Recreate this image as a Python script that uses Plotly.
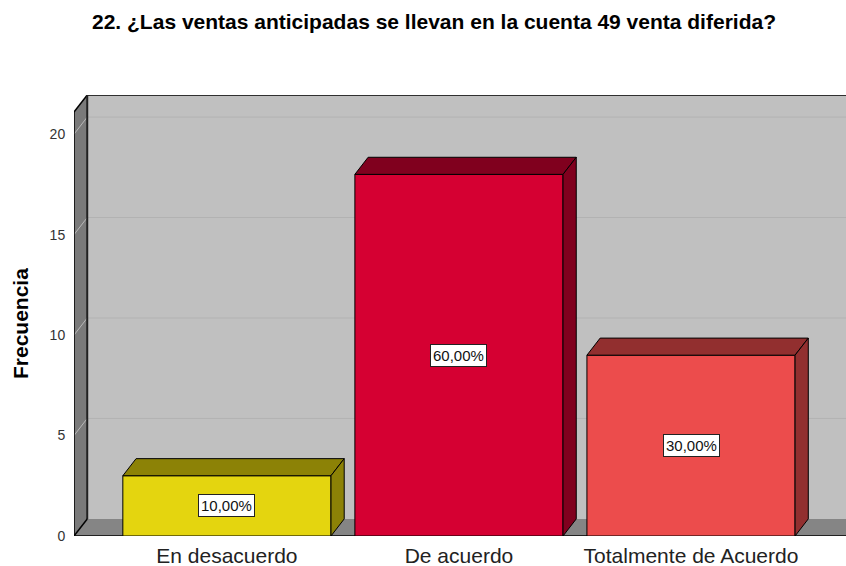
import plotly.graph_objects as go

# ---- data ----
categories = ["En desacuerdo", "De acuerdo", "Totalmente de Acuerdo"]
frequencies = [3, 18, 9]
front_colors = ["#e4d50f", "#d50032", "#ec4c4c"]
side_colors = ["#8c8206", "#80001e", "#922f2f"]
y_ticks = [0, 5, 10, 15, 20]

title_text = "22. ¿Las ventas anticipadas se llevan en la cuenta 49 venta diferida?"
y_title = "Frecuencia"

# ---- geometry constants (axis units) ----
XMIN, XMAX = -0.659, 2.668
YMAX = 21.95
DX = 0.057      # depth offset in x
DY = 0.85       # depth offset in y
BAR_W = 0.897
WALL_TOP = YMAX - DY

total = sum(frequencies)
xs = list(range(len(categories)))

fig = go.Figure()

# front faces of bars
fig.add_trace(go.Bar(
    x=xs, y=frequencies, width=BAR_W,
    marker=dict(color=front_colors, line=dict(color="#000000", width=1)),
    hoverinfo="skip", showlegend=False,
))

# 3D top and side faces computed from the data
for i, v in enumerate(frequencies):
    xl = xs[i] - BAR_W / 2
    xr = xs[i] + BAR_W / 2
    fig.add_trace(go.Scatter(
        x=[xl, xl + DX, xr + DX, xr, xl],
        y=[v, v + DY, v + DY, v, v],
        fill="toself", fillcolor=side_colors[i], mode="lines",
        line=dict(color="#000000", width=1),
        hoverinfo="skip", showlegend=False,
    ))
    fig.add_trace(go.Scatter(
        x=[xr, xr, xr + DX, xr + DX, xr],
        y=[0, v, v + DY, DY, 0],
        fill="toself", fillcolor=side_colors[i], mode="lines",
        line=dict(color="#000000", width=1),
        hoverinfo="skip", showlegend=False,
    ))

# ---- walls as background shapes ----
shapes = []
shapes.append(dict(type="rect", xref="x", yref="y", layer="below",
                   x0=XMIN + DX, x1=XMAX + 0.1, y0=DY, y1=YMAX,
                   fillcolor="#c0c0c0", line=dict(width=0)))
shapes.append(dict(type="path", xref="x", yref="y", layer="below",
                   path=f"M {XMIN},0 L {XMIN},{WALL_TOP} L {XMIN+DX},{YMAX} L {XMIN+DX},{DY} Z",
                   fillcolor="#7a7a7a", line=dict(width=0)))
shapes.append(dict(type="path", xref="x", yref="y", layer="below",
                   path=f"M {XMIN},0 L {XMAX+0.1},0 L {XMAX+0.1},{DY} L {XMIN+DX},{DY} Z",
                   fillcolor="#858585", line=dict(width=0)))
for t in y_ticks[1:]:
    shapes.append(dict(type="line", xref="x", yref="y", layer="below",
                       x0=XMIN + DX, x1=XMAX + 0.1, y0=t + DY, y1=t + DY,
                       line=dict(color="#b2b2b2", width=1)))
    shapes.append(dict(type="line", xref="x", yref="y", layer="below",
                       x0=XMIN, x1=XMIN + DX, y0=t, y1=t + DY,
                       line=dict(color="#b8b8b8", width=1)))
edge = dict(color="#000000", width=1.5)
shapes.append(dict(type="line", xref="x", yref="y", layer="below",
                   x0=XMIN, x1=XMIN, y0=0, y1=WALL_TOP, line=edge))
shapes.append(dict(type="line", xref="x", yref="y", layer="below",
                   x0=XMIN, x1=XMIN + DX, y0=WALL_TOP, y1=YMAX, line=edge))
shapes.append(dict(type="line", xref="x", yref="y", layer="below",
                   x0=XMIN + DX, x1=XMAX + 0.1, y0=YMAX, y1=YMAX, line=edge))
shapes.append(dict(type="line", xref="x", yref="y", layer="below",
                   x0=XMIN + DX, x1=XMIN + DX, y0=DY, y1=YMAX,
                   line=dict(color="#222222", width=2)))
shapes.append(dict(type="line", xref="x", yref="y", layer="below",
                   x0=XMIN, x1=XMIN + DX, y0=0, y1=DY, line=edge))
shapes.append(dict(type="line", xref="x", yref="y", layer="below",
                   x0=XMIN, x1=XMAX + 0.1, y0=0, y1=0, line=edge))

# ---- percentage labels ----
annotations = []
for i, v in enumerate(frequencies):
    pct = f"{100 * v / total:.2f}".replace(".", ",") + "%"
    annotations.append(dict(
        x=xs[i], y=v / 2, xref="x", yref="y", text=pct, showarrow=False,
        font=dict(family="Liberation Sans, Arial", size=15, color="#111111"),
        bgcolor="#ffffff", bordercolor="#222222", borderwidth=1, borderpad=2,
    ))
annotations.append(dict(
    x=0, y=(536 - 324) / 441, xref="paper", yref="paper", xshift=-54,
    text=f"<b>{y_title}</b>", textangle=-90, showarrow=False,
    xanchor="center", yanchor="middle",
    font=dict(family="Liberation Sans, Arial", size=21, color="#000000"),
))

fig.update_layout(
    width=846, height=566,
    margin=dict(l=74, r=0, t=95, b=30),
    paper_bgcolor="#ffffff", plot_bgcolor="#ffffff",
    title=dict(text=f"<b>{title_text}</b>", x=434 / 846, xanchor="center",
               xref="container", y=1 - 22 / 566, yanchor="middle", yref="container",
               font=dict(family="Liberation Sans, Arial", size=21, color="#000000")),
    shapes=shapes, annotations=annotations,
    showlegend=False,
)
fig.update_xaxes(range=[XMIN, XMAX], tickvals=xs, ticktext=categories,
                 showgrid=False, zeroline=False, showline=False,
                 ticks="outside", ticklen=1, tickcolor="rgba(0,0,0,0)",
                 tickfont=dict(family="Liberation Sans, Arial", size=21, color="#222222"))
fig.update_yaxes(range=[0, YMAX], tickvals=y_ticks,
                 showgrid=False, zeroline=False, showline=False,
                 ticks="outside", ticklen=5, tickcolor="rgba(0,0,0,0)",
                 tickfont=dict(family="Liberation Sans, Arial", size=14, color="#333333"))

fig.write_html("out.html", config={"displayModeBar": False},
               post_script="document.body.style.margin='0';document.body.style.overflow='hidden';")
